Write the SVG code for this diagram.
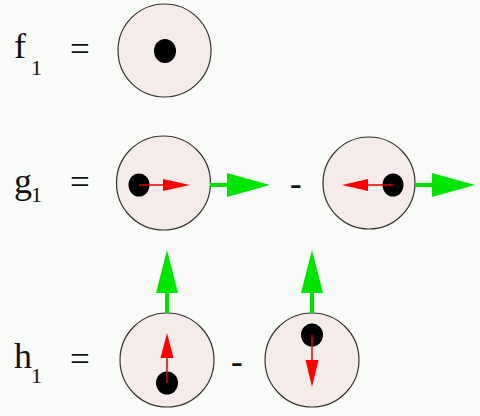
<svg xmlns="http://www.w3.org/2000/svg" width="480" height="416" viewBox="0 0 480 416">
<style>
.bg{fill:#f8fbf8}
.ring{fill:#f5ebe8;stroke:#333;stroke-width:1.2}
.dot{fill:#000}
.lbl{font-family:"Liberation Serif","Times New Roman",serif;font-size:36px;fill:#111}
.sub{font-family:"Liberation Serif","Times New Roman",serif;font-size:22px;fill:#111}
.op{font-family:"Liberation Serif","Times New Roman",serif;font-size:35px;fill:#111}
.rl{stroke:#e00000;stroke-width:1.5}
.rh{fill:#ff0000}
.gl{stroke:#00e000;stroke-width:4}
.gh{fill:#00e600}
</style>
<rect class="bg" x="0" y="0" width="480" height="416"/>
<g id="labels">
<text class="lbl" x="14" y="58">f</text><text class="sub" x="31" y="75">1</text>
<text class="op" x="70" y="61">=</text>
<text class="lbl" x="14" y="193">g</text><text class="sub" x="31" y="202">1</text>
<text class="op" x="70" y="194">=</text>
<text class="op" x="290" y="195" font-size="28">-</text>
<text class="lbl" x="14" y="368">h</text><text class="sub" x="31" y="383">1</text>
<text class="op" x="70" y="371">=</text>
<text class="op" x="231" y="373" font-size="28">-</text>
</g>
<g id="f1">
<circle class="ring" cx="164.5" cy="50.5" r="46.5"/>
<ellipse class="dot" cx="165" cy="51" rx="11" ry="12"/>
</g>
<g id="g1a">
<circle class="ring" cx="163.5" cy="183" r="47"/>
<ellipse class="dot" cx="139" cy="185" rx="10.5" ry="11.5"/>
<line class="rl" x1="139" y1="185" x2="164" y2="185"/>
<polygon class="rh" points="163,179 190,185 163,191"/>
</g>
<g id="g1b">
<circle class="ring" cx="369" cy="183" r="46"/>
<ellipse class="dot" cx="393" cy="185" rx="10.5" ry="11.5"/>
<line class="rl" x1="393" y1="185" x2="367" y2="185"/>
<polygon class="rh" points="368,179 342,185 368,191"/>
</g>
<g id="h1a">
<circle class="ring" cx="167" cy="360" r="47"/>
<ellipse class="dot" cx="167" cy="383" rx="11" ry="11.5"/>
<line class="rl" x1="167" y1="383" x2="167" y2="357"/>
<polygon class="rh" points="160.5,358 167,333 173.5,358"/>
</g>
<g id="h1b">
<circle class="ring" cx="312" cy="360" r="47"/>
<ellipse class="dot" cx="312" cy="335" rx="11" ry="11.5"/>
<line class="rl" x1="312" y1="335" x2="312" y2="361"/>
<polygon class="rh" points="305.5,360 312,387 318.5,360"/>
</g>
<g id="connectors">
<line class="gl" x1="210" y1="185" x2="228" y2="185"/>
<polygon class="gh" points="227,173 270,185 227,197"/>
<line class="gl" x1="415" y1="185" x2="433" y2="185"/>
<polygon class="gh" points="432,173 475,185 432,197"/>
<line class="gl" x1="167" y1="313" x2="167" y2="292"/>
<polygon class="gh" points="156,293 167,250 178,293"/>
<line class="gl" x1="312" y1="313" x2="312" y2="292"/>
<polygon class="gh" points="301,293 312,250 323,293"/>
</g>
</svg>
